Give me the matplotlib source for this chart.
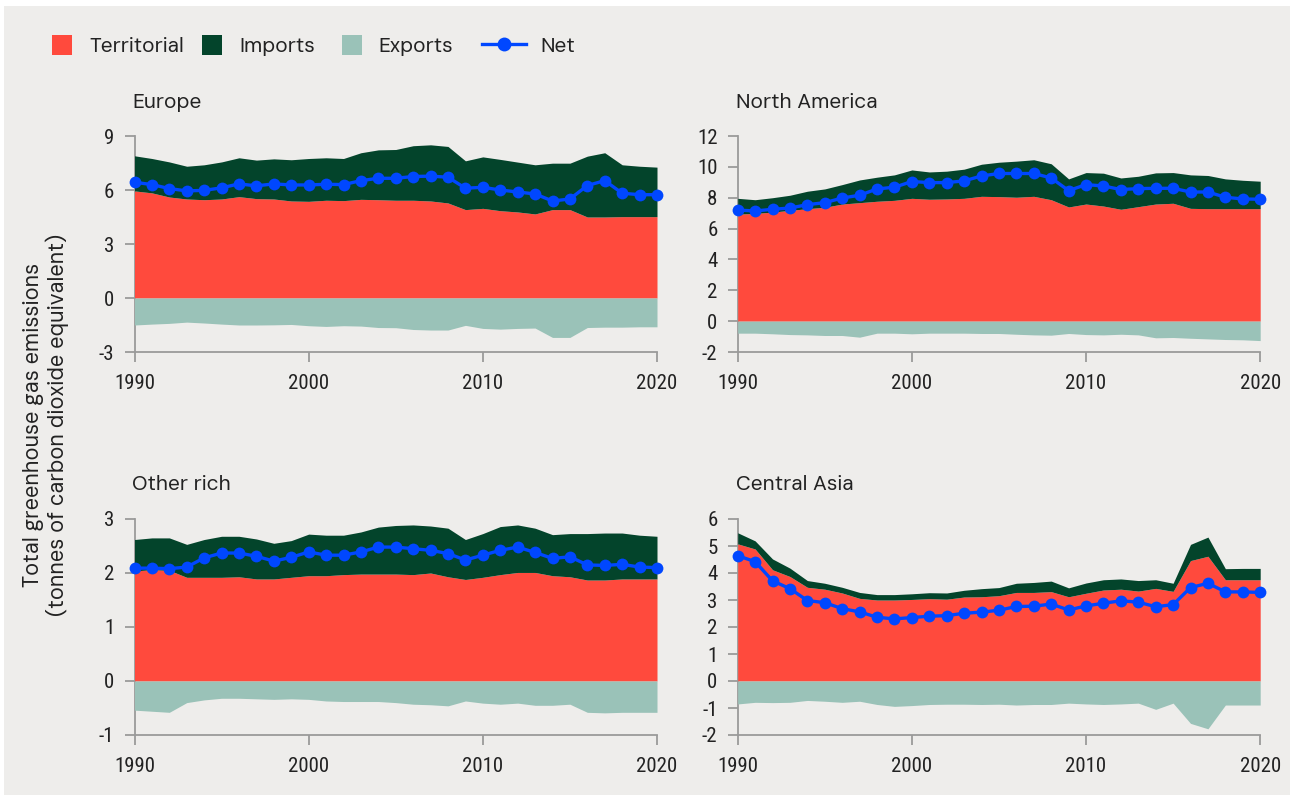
import matplotlib
matplotlib.use("Agg")
import matplotlib.pyplot as plt
from matplotlib.patches import Rectangle
from matplotlib.lines import Line2D
from matplotlib import font_manager

years = list(range(1990, 2021))

regions = ["Europe", "North America", "Other rich", "Central Asia"]

# Upper edge of territorial area
eu_territorial = [5.95, 5.84, 5.61, 5.50, 5.46, 5.50, 5.63, 5.52, 5.50, 5.39, 5.37, 5.43, 5.41, 5.48, 5.46, 5.43,
                  5.43, 5.39, 5.28, 4.91, 4.98, 4.85, 4.78, 4.67, 4.91, 4.91, 4.50, 4.50, 4.52, 4.52, 4.52]
# Upper edge of imports (territorial + imports)
eu_total = [7.90, 7.75, 7.56, 7.32, 7.40, 7.56, 7.79, 7.66, 7.73, 7.68, 7.75, 7.79, 7.75, 8.07, 8.23, 8.25,
            8.46, 8.51, 8.42, 7.62, 7.84, 7.70, 7.55, 7.40, 7.49, 7.49, 7.88, 8.07, 7.40, 7.32, 7.27]
eu_exports = [-1.50, -1.45, -1.41, -1.34, -1.39, -1.45, -1.50, -1.50, -1.49, -1.47, -1.54, -1.58, -1.54, -1.56, -1.64, -1.65,
              -1.75, -1.78, -1.78, -1.52, -1.69, -1.73, -1.69, -1.67, -2.19, -2.19, -1.64, -1.62, -1.62, -1.60, -1.60]
eu_net = [6.43, 6.30, 6.08, 5.95, 5.98, 6.12, 6.34, 6.23, 6.34, 6.28, 6.28, 6.32, 6.30, 6.52, 6.65, 6.65,
          6.75, 6.77, 6.71, 6.10, 6.15, 6.00, 5.89, 5.78, 5.39, 5.50, 6.25, 6.52, 5.82, 5.74, 5.74]

na_territorial = [6.94, 6.98, 7.07, 7.18, 7.29, 7.38, 7.59, 7.68, 7.77, 7.83, 7.96, 7.90, 7.92, 7.96, 8.09, 8.07,
                  8.03, 8.09, 7.87, 7.40, 7.59, 7.46, 7.25, 7.42, 7.59, 7.64, 7.31, 7.29, 7.29, 7.29, 7.29]
na_total = [7.96, 7.87, 8.00, 8.16, 8.42, 8.57, 8.85, 9.15, 9.33, 9.48, 9.80, 9.67, 9.72, 9.85, 10.17, 10.30,
            10.37, 10.46, 10.20, 9.22, 9.63, 9.59, 9.28, 9.39, 9.61, 9.63, 9.48, 9.44, 9.22, 9.13, 9.07]
na_exports = [-0.78, -0.78, -0.82, -0.87, -0.89, -0.93, -0.93, -1.04, -0.78, -0.78, -0.82, -0.78, -0.78, -0.78, -0.80, -0.80,
              -0.85, -0.89, -0.91, -0.80, -0.87, -0.89, -0.85, -0.89, -1.08, -1.06, -1.11, -1.15, -1.19, -1.21, -1.26]
na_net = [7.20, 7.14, 7.25, 7.33, 7.55, 7.68, 7.98, 8.16, 8.57, 8.68, 9.05, 8.98, 8.98, 9.09, 9.41, 9.57,
          9.57, 9.57, 9.28, 8.46, 8.85, 8.76, 8.53, 8.59, 8.61, 8.61, 8.37, 8.37, 8.03, 7.92, 7.90]

or_territorial = [2.04, 2.06, 2.05, 1.92, 1.92, 1.92, 1.93, 1.89, 1.89, 1.92, 1.95, 1.95, 1.97, 1.98, 1.98, 1.98,
                  1.97, 2.00, 1.93, 1.88, 1.92, 1.97, 2.01, 2.01, 1.95, 1.93, 1.87, 1.87, 1.89, 1.89, 1.89]
or_total = [2.62, 2.65, 2.65, 2.53, 2.62, 2.68, 2.68, 2.63, 2.55, 2.60, 2.72, 2.70, 2.70, 2.76, 2.85, 2.88,
            2.89, 2.87, 2.83, 2.62, 2.73, 2.86, 2.89, 2.83, 2.71, 2.73, 2.73, 2.74, 2.74, 2.70, 2.68]
or_exports = [-0.54, -0.56, -0.58, -0.40, -0.35, -0.32, -0.32, -0.33, -0.34, -0.33, -0.34, -0.37, -0.38, -0.38, -0.38, -0.40,
              -0.43, -0.44, -0.46, -0.37, -0.41, -0.43, -0.41, -0.45, -0.45, -0.43, -0.58, -0.59, -0.58, -0.58, -0.58]
or_net = [2.09, 2.09, 2.08, 2.11, 2.28, 2.37, 2.37, 2.31, 2.22, 2.29, 2.39, 2.33, 2.33, 2.39, 2.48, 2.48,
          2.45, 2.42, 2.36, 2.24, 2.33, 2.42, 2.48, 2.38, 2.27, 2.30, 2.15, 2.14, 2.16, 2.11, 2.10]

ca_territorial = [5.08, 4.89, 4.12, 3.87, 3.47, 3.40, 3.26, 3.06, 3.00, 3.00, 3.02, 3.05, 3.03, 3.11, 3.12, 3.16,
                  3.28, 3.28, 3.31, 3.12, 3.25, 3.37, 3.40, 3.33, 3.43, 3.32, 4.46, 4.62, 3.75, 3.75, 3.75]
ca_total = [5.49, 5.19, 4.52, 4.18, 3.72, 3.62, 3.47, 3.28, 3.20, 3.20, 3.23, 3.27, 3.26, 3.36, 3.42, 3.46,
            3.62, 3.65, 3.70, 3.45, 3.63, 3.75, 3.78, 3.72, 3.75, 3.62, 5.06, 5.33, 4.16, 4.17, 4.17]
ca_exports = [-0.85, -0.79, -0.80, -0.79, -0.72, -0.75, -0.79, -0.75, -0.87, -0.94, -0.91, -0.87, -0.86, -0.86, -0.87, -0.86,
              -0.89, -0.87, -0.87, -0.82, -0.85, -0.87, -0.85, -0.82, -1.05, -0.82, -1.57, -1.77, -0.89, -0.89, -0.89]
ca_net = [4.64, 4.42, 3.71, 3.42, 2.98, 2.90, 2.68, 2.56, 2.36, 2.30, 2.35, 2.40, 2.42, 2.51, 2.55, 2.62,
          2.76, 2.77, 2.85, 2.63, 2.78, 2.88, 2.97, 2.92, 2.75, 2.83, 3.46, 3.62, 3.30, 3.30, 3.28]

eu_yticks = [-3, 0, 3, 6, 9]
na_yticks = [-2, 0, 2, 4, 6, 8, 10, 12]
or_yticks = [-1, 0, 1, 2, 3]
ca_yticks = [-2, -1, 0, 1, 2, 3, 4, 5, 6]
xticks = [1990, 2000, 2010, 2020]

legend_labels = ["Territorial", "Imports", "Exports", "Net"]
ylabel_text = "Total greenhouse gas emissions\n(tonnes of carbon dioxide equivalent)"

# ---------------- styling ----------------
plt.rcParams["axes.unicode_minus"] = False

available = {f.name for f in font_manager.fontManager.ttflist}

def pick(prefs):
    for p in prefs:
        if p in available:
            return [p, "DejaVu Sans"]
    return ["DejaVu Sans"]

TICK_FONT = pick(["Roboto Condensed", "Liberation Sans Narrow", "Archivo Narrow", "PT Sans Narrow",
                  "Fira Sans Condensed", "IBM Plex Sans Condensed", "Asap Condensed", "Encode Sans Condensed",
                  "Open Sans Condensed", "Barlow Semi Condensed", "Sofia Sans Condensed", "Lato"])
MAIN_FONT = pick(["DM Sans", "Figtree", "Outfit", "Lato"])

C_TERR = "#FF4A3D"
C_IMP = "#03442B"
C_EXP = "#9AC2B8"
C_NET = "#0047FF"
BG = "#EEEDEB"
SPINE = "#9A9A9A"
TXT = "#222222"

W, H = 1295, 799
DPI = 100
fig = plt.figure(figsize=(W / DPI, H / DPI), dpi=DPI, facecolor="white")

def fx(px):
    return px / W

def fy(py):
    return 1 - py / H

# grey card background
fig.patches.append(Rectangle((fx(4), fy(795)), fx(1290) - fx(4), fy(6) - fy(795),
                             transform=fig.transFigure, facecolor=BG, edgecolor="none", zorder=-10))

panels = [
    (regions[0], eu_territorial, eu_total, eu_exports, eu_net, eu_yticks, 134.5, 136, 352, 102),
    (regions[1], na_territorial, na_total, na_exports, na_net, na_yticks, 737.7, 136, 352, 102),
    (regions[2], or_territorial, or_total, or_exports, or_net, or_yticks, 134.5, 519, 735, 485),
    (regions[3], ca_territorial, ca_total, ca_exports, ca_net, ca_yticks, 737.7, 519, 735, 485),
]
axw = 522.5

for name, terr, tot, exp_, net, yt, left, top, bottom, title_y in panels:
    ax = fig.add_axes([fx(left), fy(bottom), fx(axw), fy(top) - fy(bottom)])
    ax.set_facecolor("none")
    ax.fill_between(years, 0, terr, color=C_TERR, linewidth=0, zorder=2)
    ax.fill_between(years, terr, tot, color=C_IMP, linewidth=0, zorder=2)
    ax.fill_between(years, 0, exp_, color=C_EXP, linewidth=0, zorder=2)
    ax.plot(years, net, color=C_NET, linewidth=2.4, marker="o", markersize=8.5,
            markeredgewidth=0, zorder=4, clip_on=False)
    ax.set_xlim(1990, 2020)
    ax.set_ylim(yt[0], yt[-1])
    ax.set_xticks(xticks)
    ax.set_yticks(yt)
    for s in ["top", "right"]:
        ax.spines[s].set_visible(False)
    for s in ["left", "bottom"]:
        ax.spines[s].set_color(SPINE)
        ax.spines[s].set_linewidth(1.3)
        ax.spines[s].set_zorder(1)
    ax.tick_params(axis="both", length=7.5, width=1.3, color=SPINE, labelcolor=TXT,
                   labelsize=15)
    ax.tick_params(axis="y", pad=7)
    ax.tick_params(axis="x", pad=8)
    for lab in ax.get_xticklabels() + ax.get_yticklabels():
        lab.set_family(TICK_FONT)
    fig.text(fx(left - 2), fy(title_y), name, ha="left", va="center",
             fontsize=15, color=TXT, family=MAIN_FONT)

# y label
fig.text(fx(46), fy(425), ylabel_text, rotation=90, ha="center", va="center",
         fontsize=15.6, color=TXT, family=MAIN_FONT, linespacing=1.05, multialignment="center")

# legend
ly = 45
sq = 20
legend_items = [
    ("patch", C_TERR, 52, 89),
    ("patch", C_IMP, 202, 239),
    ("patch", C_EXP, 342, 378),
    ("line", C_NET, 482, 540),
]
for (kind, col, x0, tx), lab in zip(legend_items, legend_labels):
    if kind == "patch":
        fig.patches.append(Rectangle((fx(x0), fy(ly + sq / 2)), fx(sq), fy(ly - sq / 2) - fy(ly + sq / 2),
                                     transform=fig.transFigure, facecolor=col, edgecolor="none"))
    else:
        fig.lines.append(Line2D([fx(x0), fx(x0 + 44)], [fy(ly - 1), fy(ly - 1)], transform=fig.transFigure,
                                color=col, linewidth=2.4))
        fig.lines.append(Line2D([fx(x0 + 22)], [fy(ly - 1)], transform=fig.transFigure, color=col,
                                marker="o", markersize=10, markeredgewidth=0))
    fig.text(fx(tx), fy(ly + 1.5), lab, ha="left", va="center", fontsize=15, color=TXT, family=MAIN_FONT)

fig.savefig("out.png", dpi=DPI, facecolor="white")
